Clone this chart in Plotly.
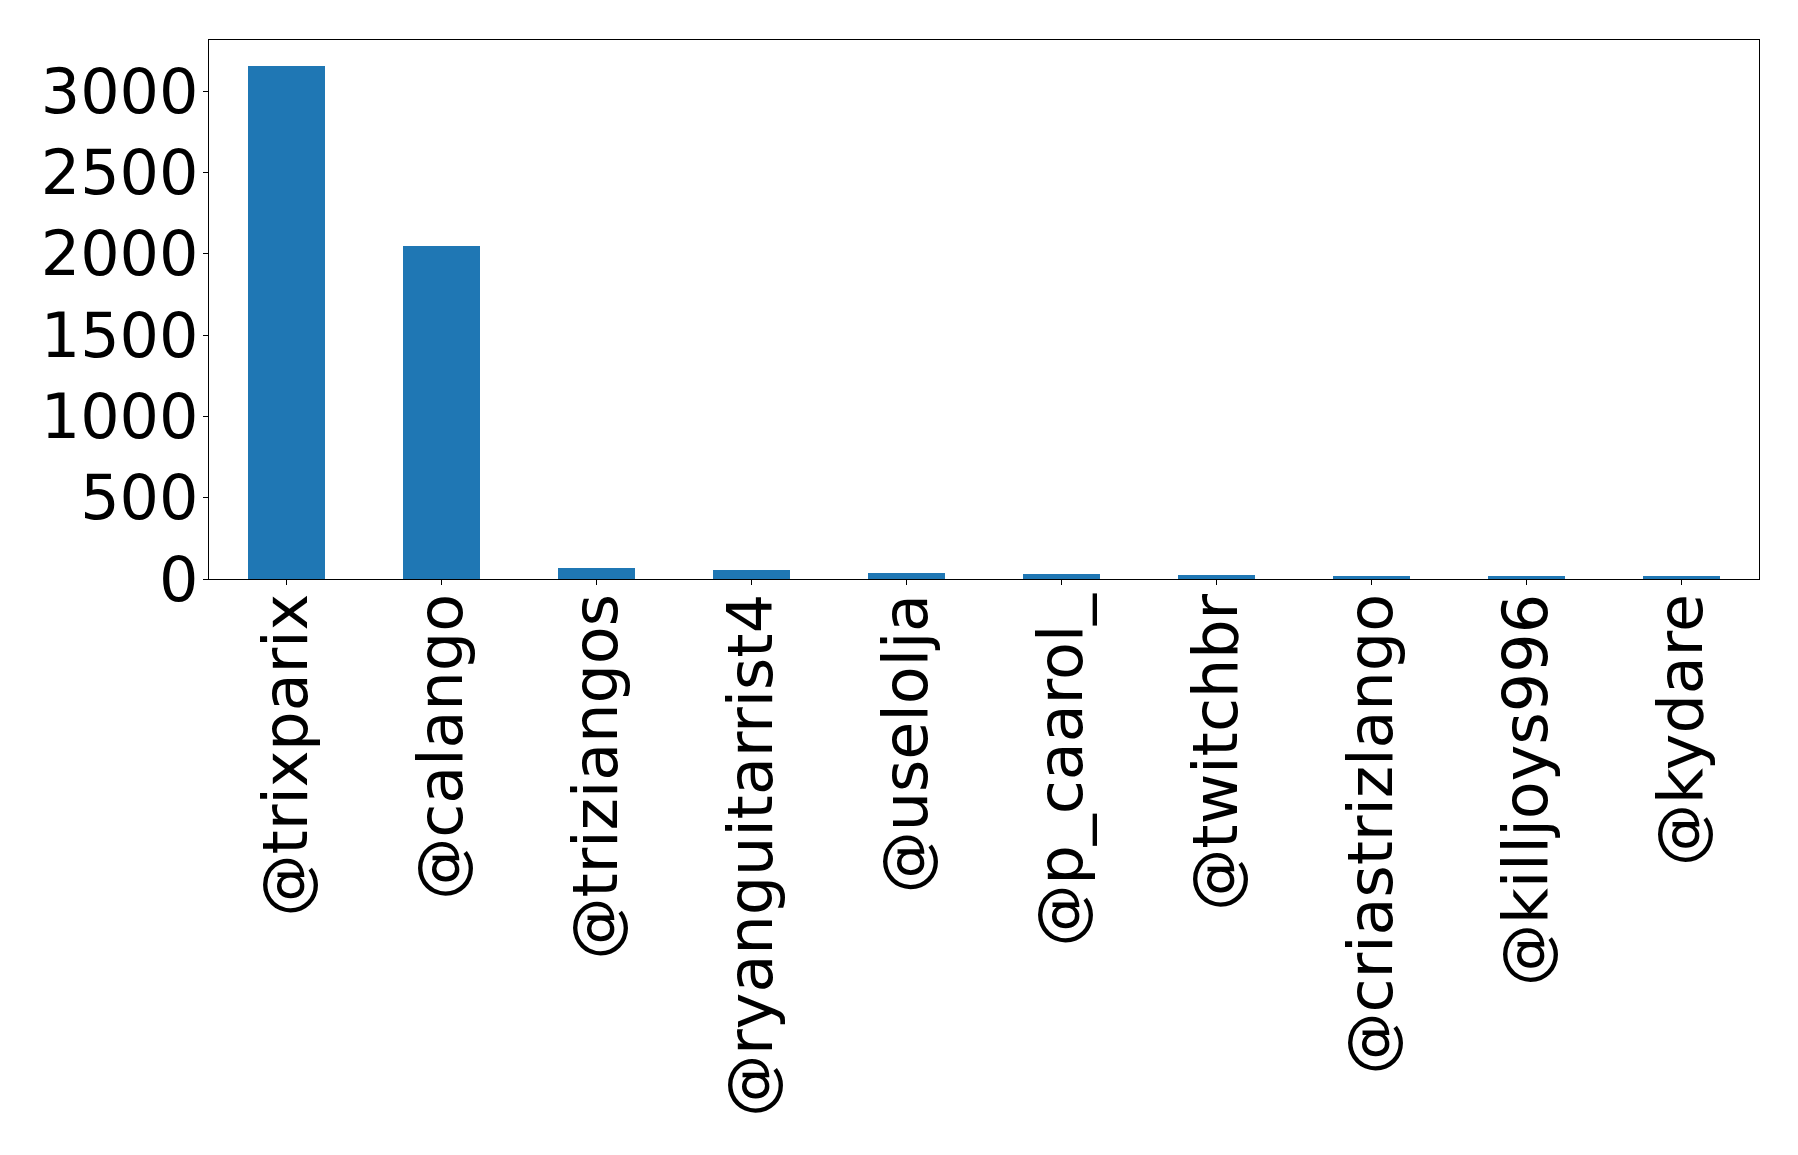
import plotly.graph_objects as go

users = ["@trixparix", "@calango", "@triziangos", "@ryanguitarrist4", "@uselolja",
         "@p_caarol_", "@twitchbr", "@criastrizlango", "@killjoys996", "@kydare"]
counts = [3156, 2049, 68, 56, 37, 31, 25, 19, 18, 18]
y_ticks = [0, 500, 1000, 1500, 2000, 2500, 3000]

BAR_COLOR = "#1f77b4"
FONT = "DejaVu Sans"
FS = 62

fig = go.Figure(
    go.Bar(x=users, y=counts, width=0.5, marker=dict(color=BAR_COLOR, line=dict(width=0)))
)

fig.update_layout(
    width=1798, height=1155,
    margin=dict(l=201, r=47, t=32, b=584, autoexpand=False),
    plot_bgcolor="white", paper_bgcolor="white",
    font=dict(family=FONT, size=FS, color="black"),
    showlegend=False,
    bargap=0,
)

fig.update_xaxes(
    type="category", range=[-0.5, len(users) - 0.5],
    tickangle=-90, ticks="outside", ticklen=5, tickwidth=1, tickcolor="black",
    showline=True, mirror=True, linecolor="black", linewidth=1.2,
    showgrid=False, zeroline=False, automargin=False,
    ticklabelstandoff=-16,
    tickfont=dict(family=FONT, size=FS, color="black"),
)
fig.update_yaxes(
    range=[0, max(counts) * 1.05], tickvals=y_ticks,
    ticktext=[str(v) for v in y_ticks],
    ticks="outside", ticklen=5, tickwidth=1, tickcolor="black",
    showline=True, mirror=True, linecolor="black", linewidth=1.2,
    showgrid=False, zeroline=False, automargin=False,
    ticklabelstandoff=-8,
    tickfont=dict(family=FONT, size=FS, color="black"),
)

fig.write_html("out.html")
